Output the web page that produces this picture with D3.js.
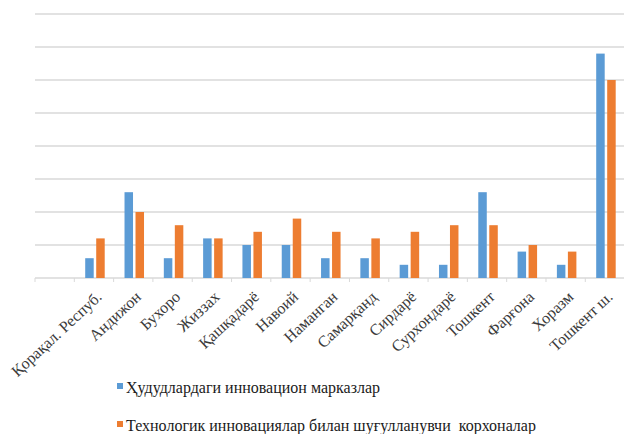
<!DOCTYPE html>
<html>
<head>
<meta charset="utf-8">
<script src="https://cdn.jsdelivr.net/npm/d3@7/dist/d3.min.js"></script>
<style>
  html, body { margin: 0; padding: 0; background: #fff; }
  svg { display: block; }
  svg text { font-family: "Liberation Serif", "Times New Roman", serif; }
</style>
</head>
<body>
<svg id="chart" width="624" height="434"></svg>
<script>
// ---- data ----
const categories = ["Қорақал. Респуб.", "Андижон", "Бухоро", "Жиззах", "Қашқадарё", "Навоий", "Наманган",
  "Самарқанд", "Сирдарё", "Сурхондарё", "Тошкент", "Фарғона", "Хоразм", "Тошкент ш."];
const seriesNames = ["Ҳудудлардаги инновацион марказлар", "Технологик инновациялар билан шуғулланувчи  корхоналар"];
const innovationCenters = [3, 13, 3, 6, 5, 5, 3, 3, 2, 2, 13, 4, 2, 34];
const techEnterprises   = [6, 10, 8, 6, 7, 9, 7, 6, 7, 8, 8, 5, 4, 30];
const yTicks = [0, 5, 10, 15, 20, 25, 30, 35, 40];
const colors = ["#5B9BD5", "#ED7D31"];

// ---- layout ----
const svg = d3.select("#chart");
const plotLeft = 35, plotRight = 624.6, plotBase = 278, plotTop = 14;
const slots = [""].concat(categories); // leading empty slot as in the original
const x = d3.scaleBand().domain(slots).range([plotLeft, plotRight]);
const y = d3.scaleLinear().domain([0, 40]).range([plotBase, plotTop]);

// gridlines
svg.append("g").selectAll("line").data(yTicks).join("line")
  .attr("x1", plotLeft).attr("x2", 624)
  .attr("y1", d => y(d)).attr("y2", d => y(d))
  .attr("stroke", "#d9d9d9").attr("stroke-width", 1.3);

// tick marks at slot boundaries
const bounds = slots.map(s => x(s)).concat([plotRight]);
svg.append("g").selectAll("line").data(bounds).join("line")
  .attr("x1", d => d).attr("x2", d => d)
  .attr("y1", plotBase).attr("y2", plotBase + 4)
  .attr("stroke", "#d9d9d9").attr("stroke-width", 1);

// bars
const barW = 8.5, gap = 2.5;
const series = [innovationCenters, techEnterprises];
series.forEach((vals, si) => {
  svg.append("g").selectAll("rect").data(vals).join("rect")
    .attr("x", (d, i) => x(categories[i]) + x.bandwidth() / 2 - (barW * 2 + gap) / 2 + (si === 0 ? 0 : barW + gap) + 1)
    .attr("width", barW)
    .attr("y", d => y(d))
    .attr("height", d => plotBase - y(d))
    .attr("fill", colors[si]);
});

// category labels
svg.append("g").selectAll("text").data(categories).join("text")
  .attr("transform", d => `translate(${x(d) + x.bandwidth() / 2 + 5},${plotBase + 16}) rotate(-43)`)
  .attr("text-anchor", "end")
  .attr("dy", "0.35em")
  .attr("font-size", 16)
  .attr("fill", "#3a3a3a")
  .text(d => d);

// legend
const legY = [387, 425];
const leg = svg.append("g").selectAll("g").data(seriesNames).join("g")
  .attr("transform", (d, i) => `translate(117,${legY[i]})`);
leg.append("rect").attr("x", 0).attr("y", -4).attr("width", 6).attr("height", 6)
  .attr("fill", (d, i) => colors[i]);
leg.append("text").attr("x", 9).attr("dy", "0.35em")
  .attr("font-size", 16)
  .attr("fill", "#1a1a1a")
  .style("white-space", "pre")
  .text(d => d);
</script>
</body>
</html>
